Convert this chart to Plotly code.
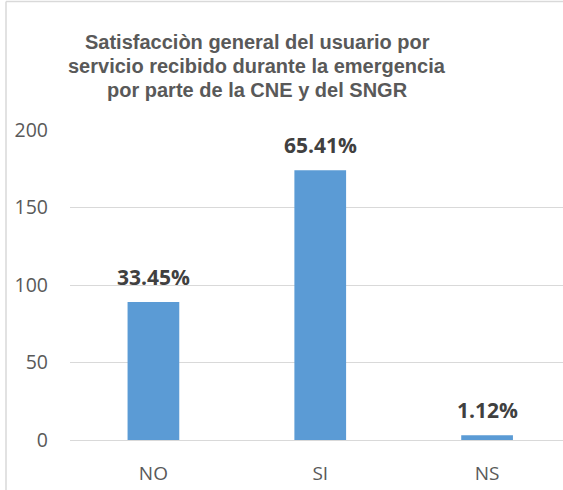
import plotly.graph_objects as go

categories = ["NO", "SI", "NS"]
values = [89, 174, 3]
labels = ["33.45%", "65.41%", "1.12%"]
y_ticks = [0, 50, 100, 150, 200]
title_lines = [
    "Satisfacciòn general del usuario por",
    "servicio recibido durante la emergencia",
    "por parte de la CNE y del SNGR",
]

W, H = 563, 490
L, R, T, B = 70, 0, 130, 50
pw = W - L - R
ph = H - T - B

fig = go.Figure()
fig.add_trace(go.Bar(
    x=list(range(len(categories))), y=values,
    marker=dict(color="#5B9BD5", line=dict(width=0)),
    width=0.31, hoverinfo="skip",
))

annotations = []
for i, (v, t) in enumerate(zip(values, labels)):
    annotations.append(dict(
        x=i, y=v, xref="x", yref="y", text="<b>%s</b>" % t, showarrow=False,
        yanchor="bottom", yshift=9,
        font=dict(family="Open Sans, Noto Sans, sans-serif", size=21, color="#404040"),
    ))

for k, (line, cy) in enumerate(zip(title_lines, [42, 66, 90])):
    annotations.append(dict(
        x=(257 - L) / pw, y=(H - B - cy) / ph, xref="paper", yref="paper",
        text="<b>%s</b>" % line,
        showarrow=False, xanchor="center", yanchor="middle", align="center",
        font=dict(family="Liberation Sans, Arial, sans-serif", size=20, color="#595959"),
    ))

x_left = (6 - L) / pw
y_top = (H - B - 1.5) / ph
shapes = [
    dict(type="line", xref="paper", yref="paper", x0=x_left, x1=x_left, y0=-0.3, y1=y_top,
         line=dict(color="#D9D9D9", width=1.5), layer="below"),
    dict(type="line", xref="paper", yref="paper", x0=x_left, x1=1.05, y0=y_top, y1=y_top,
         line=dict(color="#D9D9D9", width=1.5), layer="below"),
]

fig.update_layout(
    width=W, height=H,
    margin=dict(l=L, r=R, t=T, b=B, pad=0),
    paper_bgcolor="white", plot_bgcolor="white",
    showlegend=False,
    annotations=annotations,
    shapes=shapes,
    xaxis=dict(
        tickmode="array", tickvals=list(range(len(categories))), ticktext=categories,
        range=[-0.5, 2.5 - 7.5 / 167], showgrid=False, showline=False, zeroline=False,
        ticks="", ticklabelstandoff=20,
        tickfont=dict(family="Open Sans, Noto Sans, sans-serif", size=19, color="#595959"),
        fixedrange=True,
    ),
    yaxis=dict(
        range=[0, 200], tickmode="array", tickvals=y_ticks,
        showgrid=True, gridcolor="#D9D9D9", gridwidth=1,
        zeroline=True, zerolinecolor="#D9D9D9", zerolinewidth=1,
        showline=False, ticks="", ticklabelstandoff=21,
        tickfont=dict(family="Open Sans, Noto Sans, sans-serif", size=19.5, color="#595959"),
        fixedrange=True,
    ),
)

fig.write_html(
    "out.html",
    config={"displayModeBar": False},
    post_script=(
        "document.documentElement.style.overflow='hidden';"
        "document.documentElement.style.margin='0';"
        "document.body.style.margin='0';document.body.style.overflow='hidden';"
    ),
)
